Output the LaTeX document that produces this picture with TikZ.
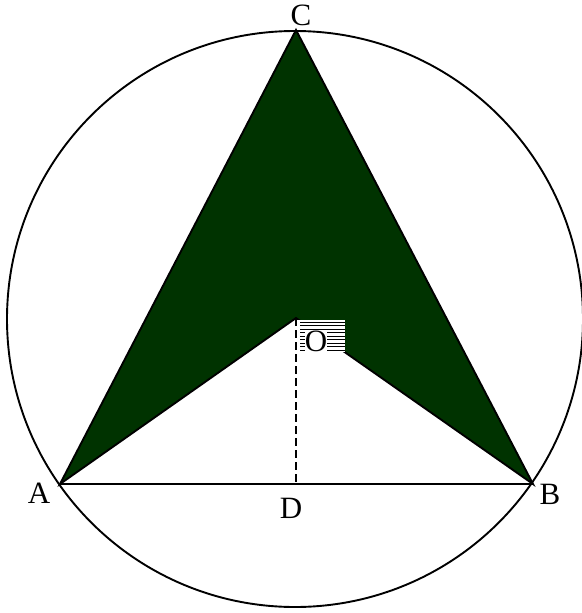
\documentclass[tikz,border=0pt]{standalone}
\usepackage{fontspec}
\setmainfont{Liberation Serif}
\usepackage{tikz}
\definecolor{darkgreen}{HTML}{003300}
\tikzset{
  lbl/.style={font=\fontsize{31}{33}\selectfont, inner sep=0pt},
}

\begin{document}
\begin{tikzpicture}[x=1pt, y=-1pt, line width=1.9pt]
		\useasboundingbox (0,0) rectangle (581,613);

		% Points
		\coordinate (A) at (60,484);
		\coordinate (B) at (533,484);
		\coordinate (C) at (296,30);
		\coordinate (O) at (296,318);
		\coordinate (D) at (296,484);

		% Shaded arrow shape
		\draw[fill=darkgreen, line join=miter] (A) -- (C) -- (B) -- (O) -- cycle;

		% White patch behind O
		\fill[white] (297,320) rectangle (345,352);
		\foreach \y in {322,325.5,...,352}
			\draw[line width=0.8pt] (300,\y) -- (345,\y);

		% Circle
		\draw (295,319) circle (288);

		% Chord and height
		\draw (A) -- (B);
		\draw[dash pattern=on 8pt off 4pt] (O) -- (D);

		% Labels
		\node[lbl] (lC) at (301,15) {C};
		\node[lbl] (lA) at (39,493) {A};
		\node[lbl] (lB) at (550,494) {B};
		\node[lbl] (lD) at (291,508) {D};
		\node[lbl, fill=white] (lO) at (316,341) {O};
	\end{tikzpicture}
\end{document}
